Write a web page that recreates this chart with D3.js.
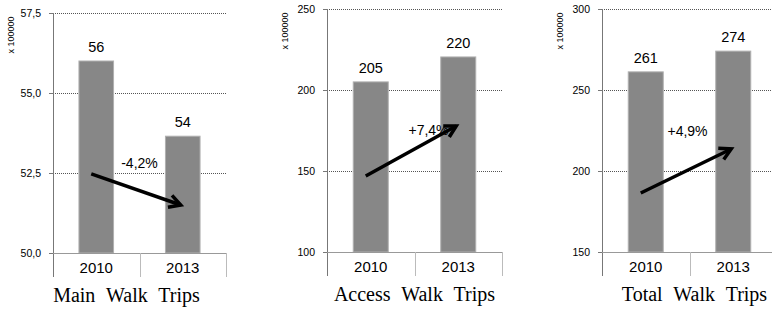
<!DOCTYPE html>
<html>
  <head>
    <meta charset="UTF-8">
    <title>Walk Trips 2010 vs 2013</title>
    <style>
      body { margin: 0; background: #fff; }
      svg { display: block; }
      .tick-label { font-family: "Liberation Sans", Arial, sans-serif; font-size: 10.5px; fill: #000; }
      .value-label { font-family: "Liberation Sans", Arial, sans-serif; font-size: 14.5px; fill: #000; }
      .cat-label { font-family: "Liberation Sans", Arial, sans-serif; font-size: 15px; fill: #000; }
      .title { font-family: "Liberation Serif", "Times New Roman", serif; font-size: 20px; fill: #000; word-spacing: 6px; }
      .unit { font-family: "Liberation Sans", Arial, sans-serif; font-size: 9px; fill: #000; }
      .change { font-family: "Liberation Sans", Arial, sans-serif; font-size: 14px; fill: #000; }
    </style>
  </head>
  <body>
    <svg id="chart"></svg>

    <script src="https://d3js.org/d3.v7.min.js" charset="utf-8"></script>
    <script>

// data
var categories = ["2010", "2013"];

var titles = ["Main Walk Trips", "Access Walk Trips", "Total Walk Trips"];

var mainValues   = [56.0, 53.65];
var accessValues = [205, 220.4];
var totalValues  = [261.2, 274];

var valueLabels = [["56", "54"], ["205", "220"], ["261", "274"]];

var yDomains = [[50, 57.5], [100, 250], [150, 300]];
var yTicks = [[50, 52.5, 55, 57.5], [100, 150, 200, 250], [150, 200, 250, 300]];
var tickDecimals = [1, 0, 0];

var changeLabels = ["-4,2%", "+7,4%", "+4,9%"];
// arrow start (2010) and end (2013) values, plus where the % label sits
var arrowFrom = [52.47, 146.9, 186.4];
var arrowTo   = [51.5, 177.8, 213.6];
var changeLabelY = [52.8, 175.3, 224.7];

var unitLabel = "x 100000";

// layout
var width = 772, height = 310;
var panels = [
  {x0: 53,  x1: 226, top: 13, bottom: 253, labelDx: 0,  titleDx: -13},
  {x0: 327, x1: 502, top: 9,  bottom: 252, labelDx: 14, titleDx: 0},
  {x0: 602, x1: 777, top: 9,  bottom: 252, labelDx: -2, titleDx: 5}
];
var allValues = [mainValues, accessValues, totalValues];

var svg = d3.select("#chart")
  .attr("width", width)
  .attr("height", height);

function fmt(v, d) {
  return v.toFixed(d).replace(".", ",");
}

panels.forEach(function(p, i){
  var g = svg.append("g");

  var x = d3.scaleBand().domain(categories).range([p.x0, p.x1]).padding(0);
  var y = d3.scaleLinear().domain(yDomains[i]).range([p.bottom, p.top]);
  var barW = x.bandwidth() * 0.4;
  var catBottom = p.bottom + 24;

  // gridlines (dotted, except baseline)
  g.selectAll(".grid")
    .data(yTicks[i].slice(1))
    .enter().append("line")
      .attr("x1", p.x0).attr("x2", p.x1)
      .attr("y1", function(d){ return Math.round(y(d)) + 0.5; })
      .attr("y2", function(d){ return Math.round(y(d)) + 0.5; })
      .attr("stroke", "#555")
      .attr("stroke-dasharray", "1,1");

  // tick marks + labels
  g.selectAll(".tk")
    .data(yTicks[i])
    .enter().append("line")
      .attr("x1", p.x0 - 4).attr("x2", p.x0)
      .attr("y1", function(d){ return Math.round(y(d)) + 0.5; })
      .attr("y2", function(d){ return Math.round(y(d)) + 0.5; })
      .attr("stroke", "#777");

  g.selectAll(".tick-label")
    .data(yTicks[i])
    .enter().append("text")
      .attr("class", "tick-label")
      .attr("x", p.x0 - 12)
      .attr("y", function(d){ return y(d); })
      .attr("dy", "0.35em")
      .attr("text-anchor", "end")
      .text(function(d){ return fmt(d, tickDecimals[i]); });

  // unit label
  g.append("text")
    .attr("class", "unit")
    .attr("transform", "translate(" + (p.x0 - 39) + "," + (p.top + 22) + ") rotate(-90)")
    .attr("text-anchor", "middle")
    .text(unitLabel);

  // bars
  g.selectAll(".bar")
    .data(allValues[i])
    .enter().append("rect")
      .attr("x", function(d, j){ return x(categories[j]) + (x.bandwidth() - barW) / 2; })
      .attr("y", function(d){ return y(d); })
      .attr("width", barW)
      .attr("height", function(d){ return p.bottom - y(d); })
      .attr("fill", "#878787")
      .attr("stroke", "#b0b0b0")
      .attr("stroke-width", 1);

  g.selectAll(".value-label")
    .data(allValues[i])
    .enter().append("text")
      .attr("class", "value-label")
      .attr("x", function(d, j){ return x(categories[j]) + x.bandwidth() / 2; })
      .attr("y", function(d){ return y(d) - 9; })
      .attr("text-anchor", "middle")
      .text(function(d, j){ return valueLabels[i][j]; });

  // axes lines
  g.append("line")
    .attr("x1", p.x0 + 0.5).attr("x2", p.x0 + 0.5)
    .attr("y1", p.top).attr("y2", catBottom)
    .attr("stroke", "#777");
  g.append("line")
    .attr("x1", p.x0).attr("x2", p.x1)
    .attr("y1", p.bottom + 0.5).attr("y2", p.bottom + 0.5)
    .attr("stroke", "#999");
  var seps = categories.slice(1).map(function(c){ return x(c); }).concat([p.x1]);
  g.selectAll(".sep")
    .data(seps)
    .enter().append("line")
      .attr("x1", function(d){ return Math.round(d) + 0.5; })
      .attr("x2", function(d){ return Math.round(d) + 0.5; })
      .attr("y1", p.bottom).attr("y2", catBottom)
      .attr("stroke", "#bbb");

  g.selectAll(".cat-label")
    .data(categories)
    .enter().append("text")
      .attr("class", "cat-label")
      .attr("x", function(d){ return x(d) + x.bandwidth() / 2; })
      .attr("y", p.bottom + 20)
      .attr("text-anchor", "middle")
      .text(function(d){ return d; });

  // panel title
  g.append("text")
    .attr("class", "title")
    .attr("x", (p.x0 + p.x1) / 2 + p.titleDx)
    .attr("y", p.bottom + 49)
    .attr("text-anchor", "middle")
    .text(titles[i]);

  // change arrow
  var ax1 = x(categories[0]) + x.bandwidth() / 2 - 5,
      ay1 = y(arrowFrom[i]),
      ax2 = x(categories[1]) + x.bandwidth() / 2 - 2,
      ay2 = y(arrowTo[i]);
  var ang = Math.atan2(ay2 - ay1, ax2 - ax1), hl = 13, ha = 0.5;
  g.append("line")
    .attr("x1", ax1).attr("y1", ay1)
    .attr("x2", ax2).attr("y2", ay2)
    .attr("stroke", "#000").attr("stroke-width", 3.5);
  g.append("path")
    .attr("d", "M" + (ax2 - hl * Math.cos(ang - ha)) + "," + (ay2 - hl * Math.sin(ang - ha)) +
               "L" + ax2 + "," + ay2 +
               "L" + (ax2 - hl * Math.cos(ang + ha)) + "," + (ay2 - hl * Math.sin(ang + ha)))
    .attr("fill", "none")
    .attr("stroke", "#000")
    .attr("stroke-width", 3.5)
    .attr("stroke-linejoin", "miter");

  g.append("text")
    .attr("class", "change")
    .attr("x", x(categories[1]) + p.labelDx)
    .attr("y", y(changeLabelY[i]))
    .attr("dy", "0.35em")
    .attr("text-anchor", "middle")
    .text(changeLabels[i]);
});

    </script>
  </body>
</html>
